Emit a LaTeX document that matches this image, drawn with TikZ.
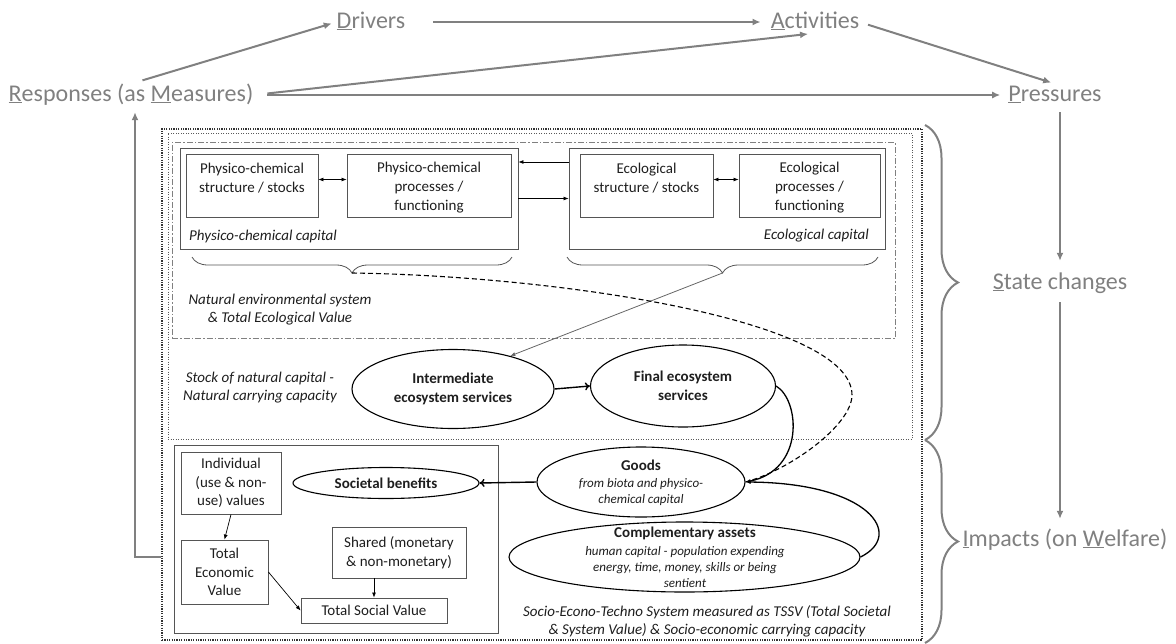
\documentclass[tikz,border=0pt]{standalone}
\usepackage{fontspec}
\setmainfont{Carlito}
\usetikzlibrary{arrows.meta,decorations.pathreplacing,shapes.geometric}
\definecolor{topgray}{RGB}{128,128,128}
\definecolor{boxgray}{RGB}{85,85,85}
\definecolor{txtc}{RGB}{30,30,30}
\begin{document}
\begin{tikzpicture}[x=1pt,y=-1pt,
 toplbl/.style={text=topgray,font=\fontsize{24}{28}\selectfont,inner sep=0pt,text height=17pt,text depth=5pt},
 garr/.style={draw=topgray,line width=2pt,-{Latex[length=8pt,width=7pt]}},
 rbox/.style={draw=boxgray,line width=0.9pt,inner sep=0pt,font=\fontsize{15}{18.5}\selectfont,align=center,text=txtc},
 ell/.style={draw=black,line width=1.1pt,ellipse,inner sep=0pt},
 btxt/.style={font=\fontsize{15}{19}\selectfont\bfseries,align=center,inner sep=0pt,text=txtc},
 itxt/.style={font=\fontsize{15}{18}\selectfont\itshape,align=center,inner sep=0pt,text=txtc},
 stxt/.style={font=\fontsize{13}{16}\selectfont\itshape,align=center,inner sep=0pt,text=txtc},
 ptxt/.style={font=\fontsize{15}{19}\selectfont,align=center,inner sep=0pt,text=txtc},
 thinarr/.style={draw=black,line width=0.7pt,-{Latex[length=5pt,width=4pt]}},
 dblarr/.style={draw=black,line width=0.7pt,{Latex[length=5pt,width=4pt]}-{Latex[length=5pt,width=4pt]}},
 barr/.style={draw=black,line width=1.4pt,-{To[length=5pt,width=8pt]}},
 bigbrace/.style={draw=topgray,line width=2pt,decorate,decoration={brace,amplitude=33pt}},
 smallbrace/.style={draw=boxgray,line width=0.8pt,decorate,decoration={brace,amplitude=16pt}},
 outerbox/.style={draw=black!80,line width=1.8pt,dash pattern=on 1.2pt off 1.2pt,inner sep=0pt},
 dotbox/.style={draw=black!65,line width=1pt,dash pattern=on 1pt off 1.5pt,inner sep=0pt},
 ddbox/.style={draw=black!50,line width=0.9pt,dash pattern=on 6pt off 2pt on 1.5pt off 2pt,inner sep=0pt}
]
\useasboundingbox (0,0) rectangle (1176,643);

% top DAPSIR labels
\node[toplbl] (drv) at (371,22) {\underline{D}rivers};
\node[toplbl] (act) at (815,22) {\underline{A}ctivities};
\node[toplbl] (resp) at (131,95) {\underline{R}esponses (as \underline{M}easures)};
\node[toplbl] (pres) at (1055,95) {\underline{P}ressures};
\node[toplbl] (stc) at (1060,283) {\underline{S}tate changes};
\node[toplbl] (imp) at (1065,540) {\underline{I}mpacts (on \underline{W}elfare)};

\draw[garr,shorten <=12pt,shorten >=5pt] (resp.north) -- (drv.west);
\draw[garr,shorten <=28pt,shorten >=10pt] (drv.east) -- (act.west);
\draw[garr,shorten <=9pt,shorten >=4pt] (act.east) -- (pres.north);
\draw[garr,shorten <=14pt,shorten >=7pt] (resp.east) -- (act.south);
\draw[garr,shorten <=14pt,shorten >=8pt] (resp.east) -- (pres.west);
\draw[garr,shorten <=6pt,shorten >=11pt] (stc.north |- pres.south) -- (stc.north);
\draw[garr,shorten <=8pt,shorten >=10pt] (stc.south) -- (stc.south |- imp.north);

% frames
\node[outerbox,minimum width=760,minimum height=511] (outer) at (542,384.5) {};
\node[dotbox,minimum width=744,minimum height=306] (natstock) at (540,286) {};
\node[ddbox,minimum width=723,minimum height=196] (nes) at (533.5,240) {};

\coordinate (fbk) at (135,557);
\draw[garr,shorten >=6pt] (outer.west |- fbk) -- (fbk) -- (fbk |- resp.south);

% big braces
\coordinate (brA) at (925,125);
\coordinate (brB) at (925,440);
\coordinate (brC) at (925,643);
\draw[bigbrace] (brA) -- (brB);
\draw[bigbrace] (brB) -- (brC);

% capital boxes
\node[rbox,minimum width=338,minimum height=101] (phcap) at (349,198.5) {};
\node[rbox,minimum width=316,minimum height=101] (ecocap) at (727,198.5) {};
\node[rbox,minimum width=132,minimum height=63] (phs) at (252,185.5) {};
\node[rbox,minimum width=164,minimum height=63] (php) at (429,185.5) {};
\node[rbox,minimum width=133,minimum height=63] (ecs) at (646.5,185.5) {};
\node[rbox,minimum width=141,minimum height=63] (ecp) at (809.5,185.5) {};
\node[ptxt] (phst) at (252,178) {Physico-chemical\\structure / stocks};
\node[ptxt] (phpt) at (429,187.5) {Physico-chemical\\processes /\\functioning};
\node[ptxt] (ecst) at (646.5,178) {Ecological\\structure / stocks};
\node[ptxt] (ecpt) at (809.5,187.5) {Ecological\\processes /\\functioning};
\node[itxt,anchor=west] (phcapt) at (189,236) {Physico-chemical capital};
\node[itxt,anchor=east] (ecocapt) at (869,236) {Ecological capital};

\draw[dblarr] ([yshift=6pt]phs.east) -- ([yshift=6pt]php.west);
\draw[dblarr] ([yshift=6pt]ecs.east) -- ([yshift=6pt]ecp.west);
\draw[thinarr] ([yshift=36.5pt]ecocap.west) -- ([yshift=36.5pt]phcap.east);
\draw[thinarr] (phcap.east) -- (ecocap.west);

\coordinate (phA) at (192,257);
\coordinate (phB) at (512,257);
\coordinate (ecA) at (567,257);
\coordinate (ecB) at (878,257);
\draw[smallbrace] (phB) -- (phA);
\draw[smallbrace] (ecB) -- (ecA);
\coordinate (phtip) at (352,273);
\coordinate (ectip) at (722.5,273);

\node[itxt] (nest) at (280,310) {Natural environmental system\\\& Total Ecological Value};
\node[itxt] (stockt) at (260,388) {Stock of natural capital -\\Natural carrying capacity};

% ecosystem services
\node[ell,minimum width=202,minimum height=79] (inter) at (453,389) {};
\node[btxt] (intert) at (453,389) {Intermediate\\ecosystem services};
\node[ell,minimum width=185,minimum height=82] (final) at (683,386) {};
\node[btxt] (finalt) at (683,386) {Final ecosystem\\services};

\draw[draw=black!60,line width=0.8pt,-{Latex[length=5pt,width=4pt]}] (ectip) -- (inter.30);
\draw[barr] (inter.east) -- (final.west);

% societal part
\node[rbox,minimum width=324,minimum height=188] (socbox) at (336,539) {};
\node[rbox,minimum width=100,minimum height=62] (indiv) at (231,483) {Individual\\(use \& non-\\use) values};
\node[rbox,minimum width=87,minimum height=64] (tev) at (224.5,572) {Total\\Economic\\Value};
\node[rbox,minimum width=134,minimum height=51] (shared) at (399,552.5) {Shared (monetary\\\& non-monetary)};
\node[rbox,minimum width=146,minimum height=25] (tsv) at (374,610.5) {Total Social Value};
\node[ell,minimum width=186,minimum height=31] (socben) at (386,483) {};
\node[btxt] (socbent) at (386,483) {Societal benefits};

\draw[thinarr] (indiv.south) -- (tev.north);
\draw[thinarr] (tsv.north |- shared.south) -- (tsv.north);
\draw[thinarr] (tev.east) -- (tsv.west);

\node[ell,minimum width=208,minimum height=70] (goods) at (641,482) {};
\node[btxt] (goodst) at (641,465) {Goods};
\node[stxt] (goodss) at (641,492.5) {from biota and physico-\\chemical capital};
\node[ell,minimum width=351,minimum height=70] (compl) at (684.5,557) {};
\node[btxt] (complt) at (685,533) {Complementary assets};
\node[stxt] (compls) at (685,567.5) {human capital - population expending\\energy, time, money, skills or being\\sentient};
\node[itxt] (sett) at (707,621) {Socio-Econo-Techno System measured as TSSV (Total Societal\\\& System Value) \& Socio-economic carrying capacity};

\draw[barr] (goods.west) -- (socben.east);
\draw[draw=black,line width=1.3pt,-{Latex[length=5pt,width=4pt]}] (final.east) .. controls (800,400) and (805,470) .. (goods.east);
\draw[draw=black,line width=1.3pt,-{Latex[length=5pt,width=4pt]}] (compl.east) .. controls (905,535) and (870,483) .. (goods.east);
\draw[draw=black,line width=1.1pt,dash pattern=on 5pt off 3pt] (phtip) .. controls (560,276) and (852,320) .. (852,395) .. controls (852,425) and (790,470) .. (goods.east);
\end{tikzpicture}
\end{document}
